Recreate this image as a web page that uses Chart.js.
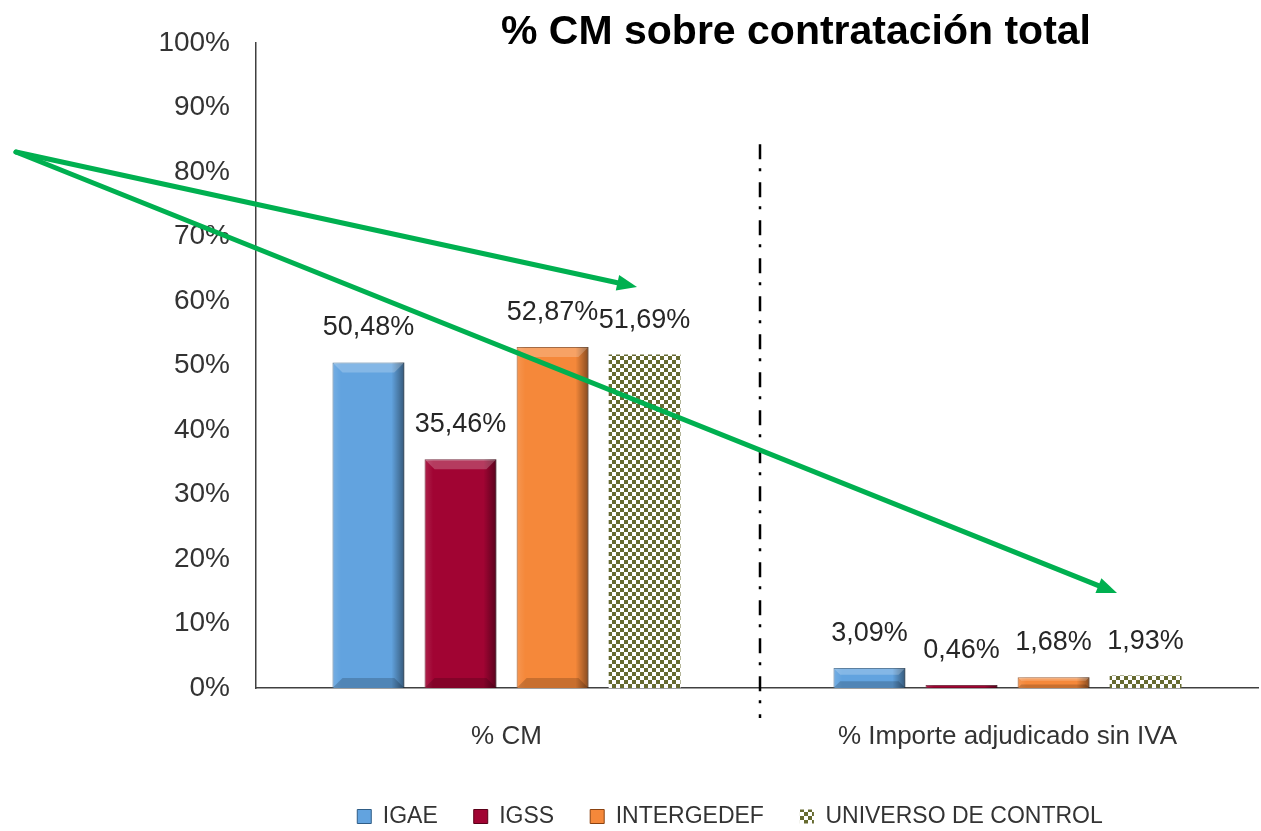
<!DOCTYPE html>
<html>
<head>
<meta charset="utf-8">
<script src="https://cdn.jsdelivr.net/npm/chart.js@4.4.1/dist/chart.umd.min.js"></script>
<style>
  body { margin: 0; background: #fff; }
  #wrap { width: 1261px; height: 831px; position: relative; }
</style>
</head>
<body>
<div id="wrap"><canvas id="grafico"></canvas></div>
<script>
// Datos
const categorias = ['% CM', '% Importe adjudicado sin IVA'];
const serieIGAE = [50.48, 3.09];
const serieIGSS = [35.46, 0.46];
const serieINTERGEDEF = [52.87, 1.68];
const serieUniverso = [51.69, 1.93];
const nombresSeries = ['IGAE', 'IGSS', 'INTERGEDEF', 'UNIVERSO DE CONTROL'];
const ticksY = [0, 10, 20, 30, 40, 50, 60, 70, 80, 90, 100];

const fuente = 'Liberation Sans, Arial, sans-serif';

// Trama a cuadros para el universo de control
function tramaCuadros() {
    const c = document.createElement('canvas');
    c.width = 8;
    c.height = 8;
    const g = c.getContext('2d');
    g.fillStyle = '#ffffff';
    g.fillRect(0, 0, 8, 8);
    g.fillStyle = '#666a30';
    g.fillRect(0, 0, 4, 4);
    g.fillRect(4, 4, 4, 4);
    return g.createPattern(c, 'repeat');
}

const formato = v => v.toFixed(2).replace('.', ',') + '%';

// Leyenda desplazada como en el original
const pluginPosLeyenda = {
    id: 'posLeyenda',
    afterLayout(chart) {
        const lg = chart.legend;
        const dx = 730 - (lg.left + lg.right) / 2;
        lg.left += dx;
        lg.right += dx;
        lg.top += 15;
        lg.bottom += 15;
    }
};

// Título
const pluginTitulo = {
    id: 'titulo',
    afterDraw(chart) {
        const ctx = chart.ctx;
        ctx.save();
        ctx.font = 'bold 41px ' + fuente;
        ctx.fillStyle = '#000';
        ctx.textAlign = 'center';
        ctx.textBaseline = 'middle';
        ctx.fillText('% CM sobre contratación total', 796, 33);
        ctx.restore();
    }
};

// Relieve de las barras
const pluginRelieve = {
    id: 'relieve',
    afterDatasetsDraw(chart) {
        const ctx = chart.ctx;
        [0, 1, 2].forEach(i => {
            chart.getDatasetMeta(i).data.forEach(el => {
                const p = el.getProps(['x', 'y', 'base', 'width'], true);
                const izq = p.x - p.width / 2;
                const alto = p.base - p.y;
                if (alto < 2) return;
                const b = Math.min(10, alto / 3);
                ctx.save();
                const gr = ctx.createLinearGradient(izq, 0, izq + p.width, 0);
                gr.addColorStop(0, 'rgba(255,255,255,0.12)');
                gr.addColorStop(0.12, 'rgba(255,255,255,0)');
                gr.addColorStop(0.82, 'rgba(0,0,0,0)');
                gr.addColorStop(1, 'rgba(0,0,0,0.45)');
                ctx.fillStyle = gr;
                ctx.fillRect(izq, p.y, p.width, alto);
                // bisel superior
                ctx.fillStyle = 'rgba(255,255,255,0.22)';
                ctx.beginPath();
                ctx.moveTo(izq, p.y);
                ctx.lineTo(izq + p.width, p.y);
                ctx.lineTo(izq + p.width - b, p.y + b);
                ctx.lineTo(izq + b, p.y + b);
                ctx.closePath();
                ctx.fill();
                // bisel inferior
                ctx.fillStyle = 'rgba(0,0,0,0.18)';
                ctx.beginPath();
                ctx.moveTo(izq, p.base);
                ctx.lineTo(izq + p.width, p.base);
                ctx.lineTo(izq + p.width - b, p.base - b);
                ctx.lineTo(izq + b, p.base - b);
                ctx.closePath();
                ctx.fill();
                ctx.restore();
            });
        });
    }
};

// Etiquetas de valor
const pluginEtiquetas = {
    id: 'etiquetas',
    afterDatasetsDraw(chart) {
        const ctx = chart.ctx;
        ctx.save();
        ctx.font = '27px ' + fuente;
        ctx.fillStyle = '#262626';
        ctx.textAlign = 'center';
        ctx.textBaseline = 'alphabetic';
        chart.data.datasets.forEach((ds, i) => {
            chart.getDatasetMeta(i).data.forEach((el, j) => {
                ctx.fillText(formato(ds.data[j]), el.x, el.y - 27);
            });
        });
        ctx.restore();
    }
};

// Separador y flechas
const pluginAnotaciones = {
    id: 'anotaciones',
    afterDraw(chart) {
        const ctx = chart.ctx;
        const x = chart.scales.x;
        const y = chart.scales.y;
        const xs = (x.getPixelForValue(0) + x.getPixelForValue(1)) / 2 + 3;
        ctx.save();
        ctx.strokeStyle = '#000';
        ctx.lineWidth = 2.5;
        ctx.setLineDash([15, 9, 3, 11]);
        ctx.beginPath();
        ctx.moveTo(xs, y.getPixelForValue(84.3));
        ctx.lineTo(xs, y.getPixelForValue(0) + 30);
        ctx.stroke();
        ctx.setLineDash([]);

        const verde = '#00b050';
        function flecha(x0, y0, x1, y1) {
            const ang = Math.atan2(y1 - y0, x1 - x0);
            const largo = 20, ancho = 8;
            const bx = x1 - largo * Math.cos(ang);
            const by = y1 - largo * Math.sin(ang);
            ctx.strokeStyle = verde;
            ctx.lineWidth = 5;
            ctx.lineCap = 'round';
            ctx.beginPath();
            ctx.moveTo(x0, y0);
            ctx.lineTo(bx, by);
            ctx.stroke();
            ctx.fillStyle = verde;
            ctx.beginPath();
            ctx.moveTo(x1, y1);
            ctx.lineTo(bx + ancho * Math.sin(ang), by - ancho * Math.cos(ang));
            ctx.lineTo(bx - ancho * Math.sin(ang), by + ancho * Math.cos(ang));
            ctx.closePath();
            ctx.fill();
        }
        flecha(16, 152, 637, 287);
        flecha(16, 152, 1117, 593);
        ctx.restore();
    }
};

const ctx = document.getElementById('grafico').getContext('2d');
const grafico = new Chart(ctx, {
    type: 'bar',
    data: {
        labels: categorias,
        datasets: [{
            label: nombresSeries[0],
            data: serieIGAE,
            backgroundColor: '#62a3df',
            borderColor: '#2f5d86',
            borderWidth: 1
        }, {
            label: nombresSeries[1],
            data: serieIGSS,
            backgroundColor: '#a10433',
            borderColor: '#5a0019',
            borderWidth: 1
        }, {
            label: nombresSeries[2],
            data: serieINTERGEDEF,
            backgroundColor: '#f5883a',
            borderColor: '#8a4210',
            borderWidth: 1
        }, {
            label: nombresSeries[3],
            data: serieUniverso,
            backgroundColor: tramaCuadros(),
            borderColor: '#ffffff',
            borderWidth: 0
        }]
    },
    options: {
        responsive: true,
        maintainAspectRatio: false,
        animation: false,
        layout: {
            padding: { left: 150, right: 3, top: 43, bottom: 8 }
        },
        datasets: {
            bar: {
                categoryPercentage: 0.735,
                barPercentage: 0.78
            }
        },
        scales: {
            x: {
                afterFit: s => { s.height = 66; },
                grid: { display: false, drawTicks: false },
                border: { display: true, color: '#404040', width: 1.5 },
                ticks: {
                    font: { size: 26, family: fuente },
                    color: '#333',
                    padding: 33
                }
            },
            y: {
                min: 0,
                max: 100,
                afterFit: s => { s.width = 106; },
                afterBuildTicks: s => { s.ticks = ticksY.map(v => ({ value: v })); },
                grid: { display: false, drawTicks: false },
                border: { display: true, color: '#404040', width: 1.5 },
                ticks: {
                    callback: v => v + '%',
                    font: { size: 28, family: fuente },
                    color: '#333',
                    padding: 26
                }
            }
        },
        plugins: {
            legend: {
                position: 'bottom',
                labels: {
                    font: { size: 23, family: fuente },
                    color: '#333',
                    boxWidth: 14,
                    boxHeight: 14,
                    padding: 36
                }
            },
            title: { display: false },
            tooltip: { enabled: false }
        }
    },
    plugins: [pluginPosLeyenda, pluginRelieve, pluginEtiquetas, pluginAnotaciones, pluginTitulo]
});
</script>
</body>
</html>
